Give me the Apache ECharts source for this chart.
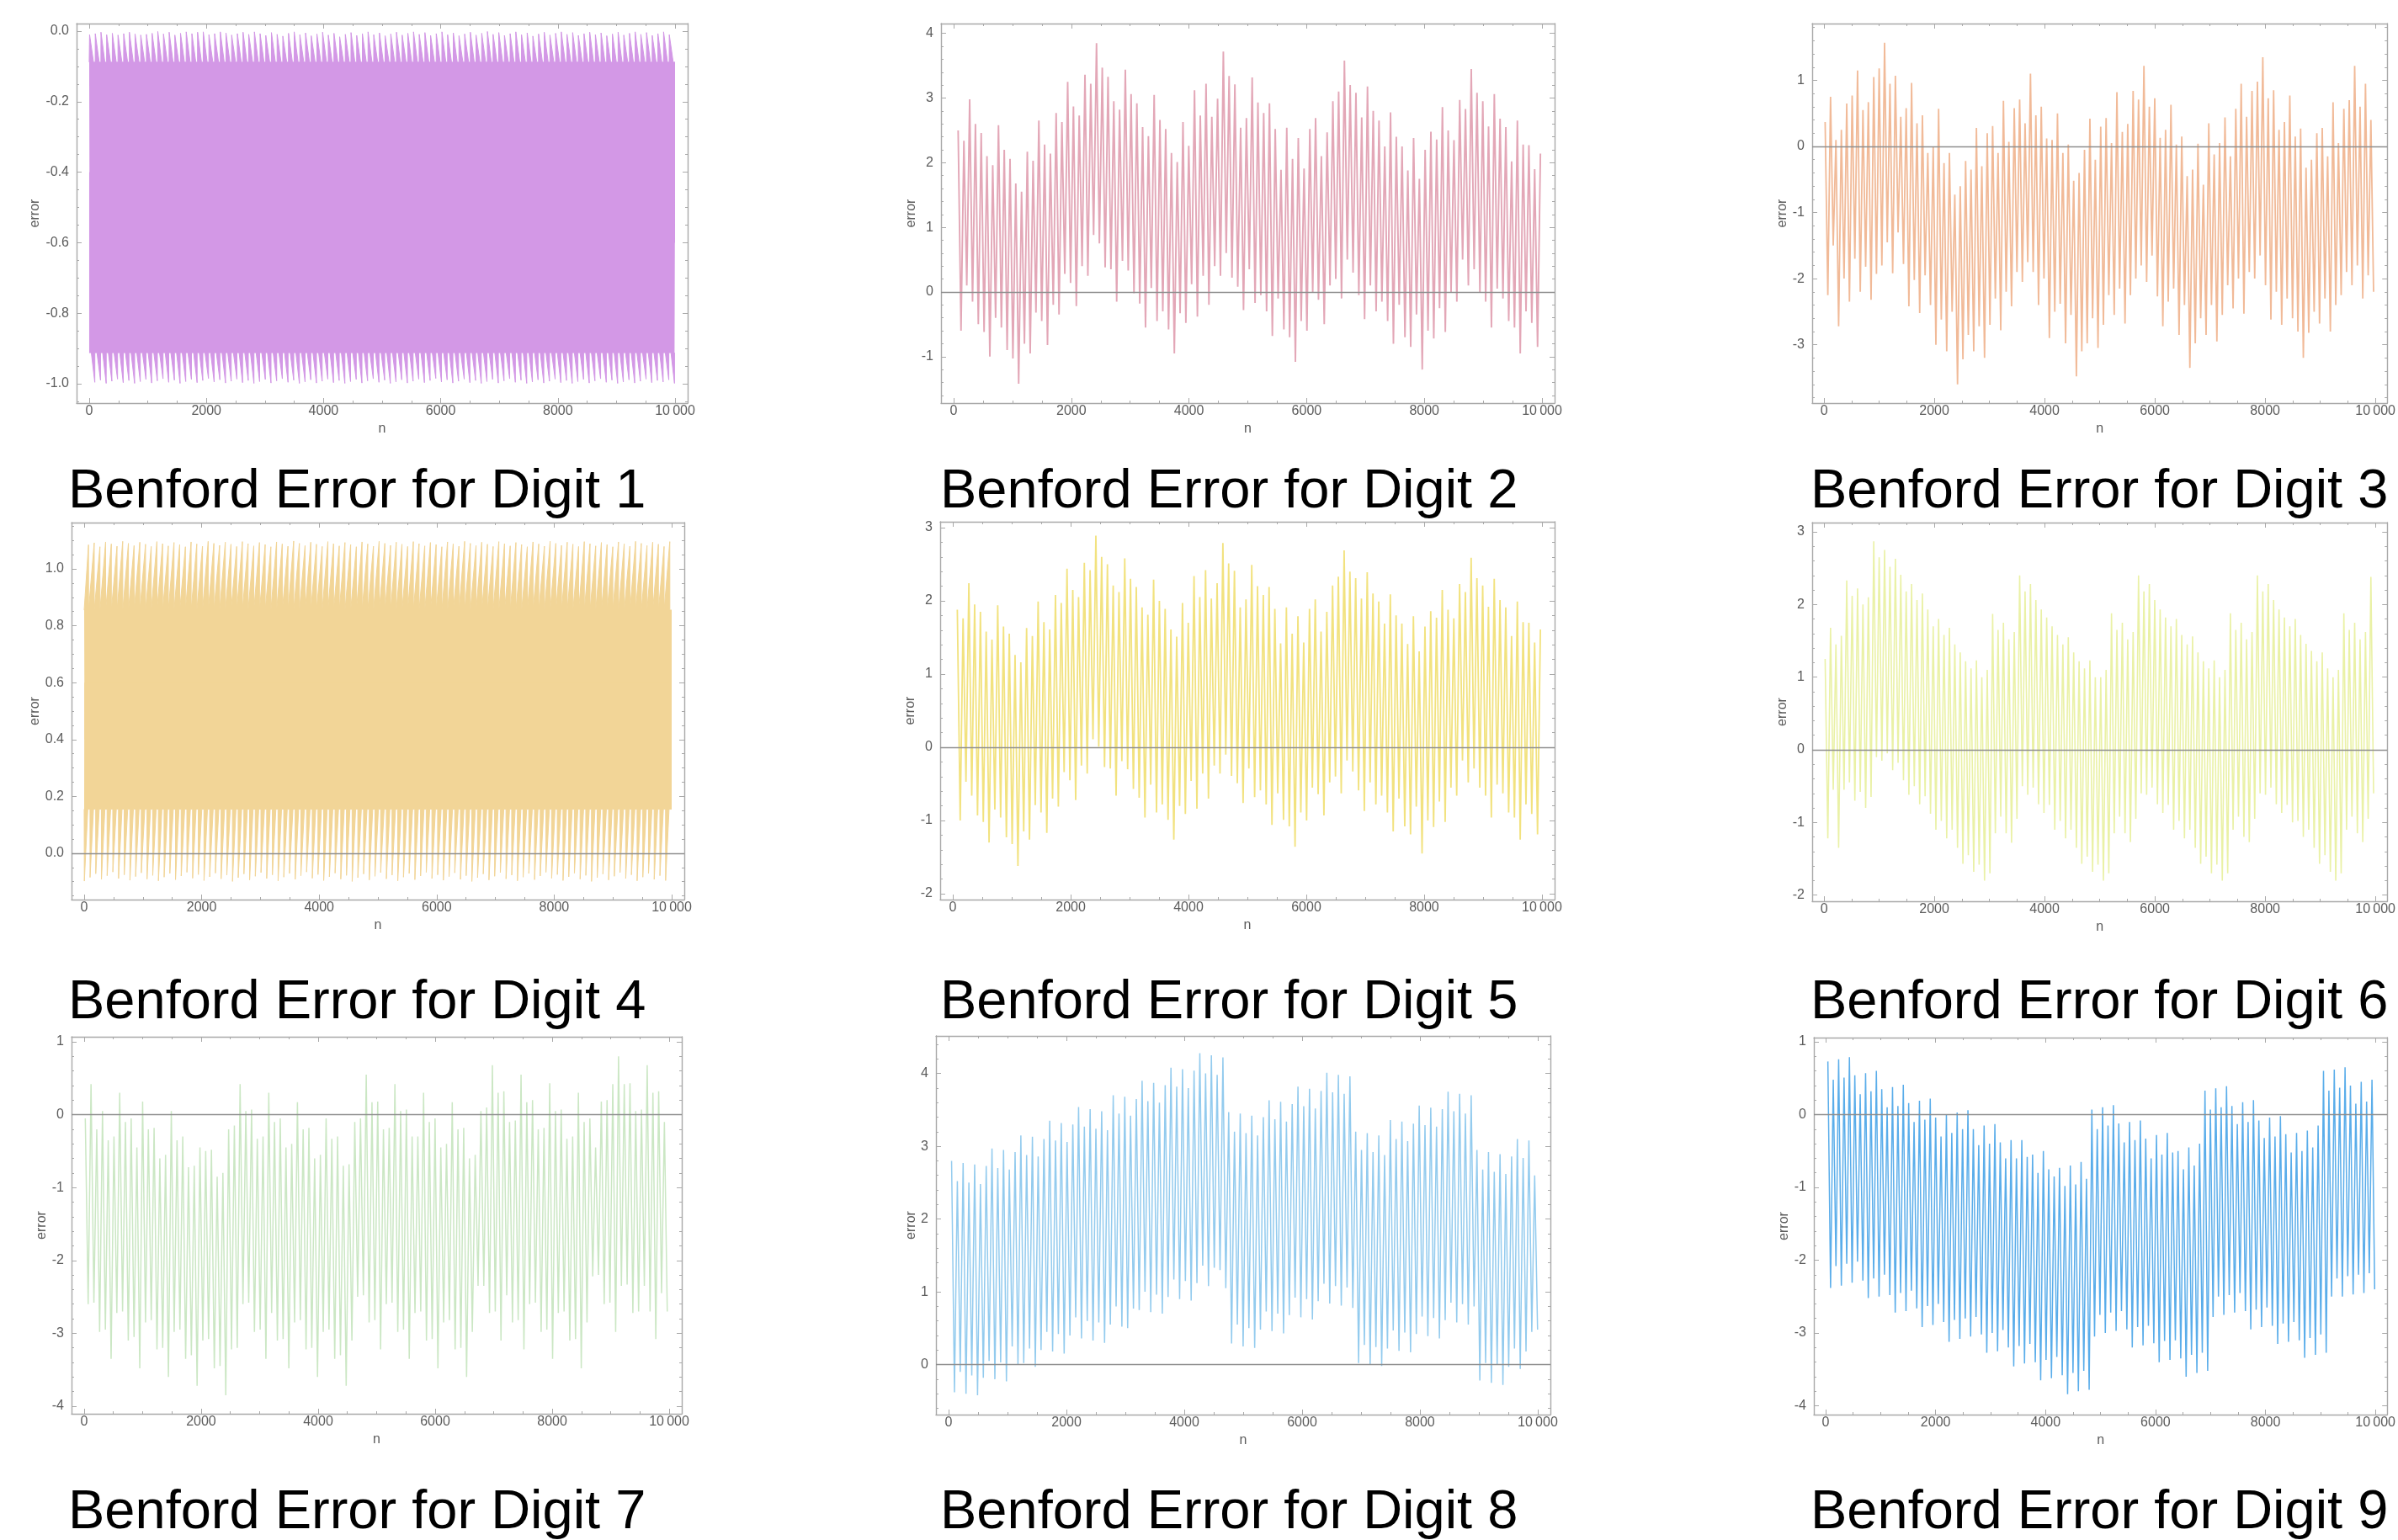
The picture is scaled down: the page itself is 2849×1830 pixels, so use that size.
<!DOCTYPE html>
<html><head><meta charset="utf-8">
<script src="https://cdn.jsdelivr.net/npm/echarts@6/dist/echarts.min.js"></script>
<style>html,body{margin:0;padding:0;background:#fff;overflow:hidden}#c{width:2849px;height:1830px}</style>
</head><body><div id="c"></div><script>
// ---------------- tick labels ----------------
const X_TICKS = [0, 2000, 4000, 6000, 8000, 10000];
const yTicks1 = [0, -0.2, -0.4, -0.6, -0.8, -1.0];
const yTicks2 = [4, 3, 2, 1, 0, -1];
const yTicks3 = [1, 0, -1, -2, -3];
const yTicks4 = [1.0, 0.8, 0.6, 0.4, 0.2, 0.0];
const yTicks5 = [3, 2, 1, 0, -1, -2];
const yTicks6 = [3, 2, 1, 0, -1, -2];
const yTicks7 = [1, 0, -1, -2, -3, -4];
const yTicks8 = [4, 3, 2, 1, 0];
const yTicks9 = [1, 0, -1, -2, -3, -4];
const titles = ['Benford Error for Digit 1','Benford Error for Digit 2','Benford Error for Digit 3','Benford Error for Digit 4','Benford Error for Digit 5','Benford Error for Digit 6','Benford Error for Digit 7','Benford Error for Digit 8','Benford Error for Digit 9'];

// ---------------- data: digit 1 and 4 (dense bands; spike tips + band edges) ----------------
const d1TopTips = [-0.010,-0.007,-0.003,-0.010,-0.006,-0.011,-0.007,-0.003,-0.008,-0.011,
-0.009,-0.006,-0.001,-0.008,-0.003,-0.011,-0.006,-0.002,-0.007,-0.003,
-0.002,-0.010,-0.007,-0.002,-0.005,-0.011,-0.007,-0.003,-0.009,-0.002,
-0.007,-0.012,-0.004,-0.009,-0.014,-0.006,-0.002,-0.010,-0.005,-0.013,
-0.008,-0.003,-0.011,-0.006,-0.016,-0.009,-0.004,-0.012,-0.007,-0.002,
-0.010,-0.005,-0.013,-0.008,-0.003,-0.011,-0.006,-0.002,-0.009,-0.004,
-0.012,-0.007,-0.002,-0.010,-0.005,-0.013,-0.008,-0.003,-0.011,-0.006,
-0.001,-0.009,-0.004,-0.012,-0.007,-0.002,-0.010,-0.005,-0.014,-0.008,
-0.003,-0.011,-0.006,-0.002,-0.009,-0.004,-0.012,-0.007,-0.003,-0.010,
-0.005,-0.013,-0.008,-0.003,-0.011,-0.006,-0.002,-0.009,-0.004,-0.012,
-0.007,-0.002,-0.010];
const d1BottomTips = [-0.996,-0.990,-0.999,-0.993,-0.987,-0.997,-0.991,-0.999,-0.994,-0.988,
-0.998,-0.992,-0.986,-0.996,-0.990,-0.999,-0.994,-0.988,-0.997,-0.991,
-0.985,-0.995,-0.989,-0.998,-0.993,-0.987,-0.997,-0.991,-0.999,-0.994,
-0.988,-0.998,-0.992,-0.986,-0.996,-0.990,-0.999,-0.995,-0.989,-0.998,
-0.993,-0.987,-0.997,-0.991,-0.999,-0.994,-0.988,-0.998,-0.992,-0.986,
-0.996,-0.990,-0.999,-0.995,-0.989,-0.998,-0.993,-0.987,-0.997,-0.991,
-0.985,-0.995,-0.989,-0.998,-0.993,-0.987,-0.997,-0.991,-0.999,-0.994,
-0.988,-0.998,-0.992,-0.986,-0.996,-0.990,-0.999,-0.995,-0.989,-0.998,
-0.993,-0.987,-0.997,-0.991,-0.999,-0.994,-0.988,-0.998,-0.992,-0.986,
-0.996,-0.990,-0.999,-0.995,-0.989,-0.998,-0.993,-0.987,-0.997,-0.991,
-0.995,-0.989,-0.999];
const d1Band = [-0.088, -0.912];
const d4TopTips = [1.085,1.092,1.078,1.095,1.088,1.080,1.097,1.090,1.082,1.094,
1.087,1.079,1.096,1.089,1.081,1.093,1.086,1.078,1.095,1.088,
1.080,1.097,1.090,1.083,1.094,1.087,1.079,1.096,1.089,1.081,
1.093,1.086,1.078,1.095,1.088,1.080,1.098,1.090,1.082,1.094,
1.087,1.079,1.096,1.089,1.081,1.093,1.086,1.078,1.095,1.088,
1.080,1.097,1.090,1.083,1.094,1.087,1.079,1.096,1.089,1.081,
1.093,1.086,1.078,1.095,1.088,1.080,1.097,1.090,1.082,1.094,
1.087,1.079,1.096,1.089,1.081,1.093,1.086,1.078,1.095,1.088,
1.080,1.097,1.090,1.083,1.094,1.087,1.079,1.096,1.089,1.081,
1.093,1.086,1.078,1.095,1.088,1.080,1.097,1.090,1.082,1.094,
1.087,1.079,1.096];
const d4BottomTips = [-0.098,-0.085,-0.072,-0.092,-0.079,-0.066,-0.089,-0.076,-0.095,-0.082,
-0.069,-0.091,-0.078,-0.097,-0.084,-0.071,-0.093,-0.080,-0.067,-0.088,
-0.075,-0.096,-0.083,-0.070,-0.090,-0.077,-0.099,-0.086,-0.073,-0.094,
-0.081,-0.068,-0.089,-0.076,-0.097,-0.084,-0.071,-0.092,-0.079,-0.066,
-0.088,-0.075,-0.096,-0.083,-0.070,-0.091,-0.078,-0.099,-0.086,-0.073,
-0.094,-0.081,-0.068,-0.090,-0.077,-0.097,-0.084,-0.071,-0.093,-0.080,
-0.067,-0.089,-0.076,-0.095,-0.082,-0.069,-0.092,-0.079,-0.099,-0.086,
-0.073,-0.094,-0.081,-0.068,-0.090,-0.077,-0.097,-0.084,-0.071,-0.093,
-0.080,-0.067,-0.088,-0.075,-0.096,-0.083,-0.070,-0.091,-0.078,-0.099,
-0.086,-0.073,-0.094,-0.081,-0.068,-0.089,-0.076,-0.097,-0.084,-0.071,
-0.092,-0.079,-0.096];
const d4Band = [0.855, 0.155];

// ---------------- data: digits 2,3,5-9 (local peaks / troughs per ~98-step cycle) ----------------
const d2Peaks = [2.50,2.34,2.98,2.60,2.46,2.10,1.96,2.58,2.20,2.06,
1.68,1.55,2.17,2.03,2.65,2.28,2.14,2.77,2.63,3.25,
2.87,2.73,3.36,3.22,3.85,3.47,3.33,2.95,2.82,3.44,
3.06,2.92,2.55,2.41,3.05,2.66,2.52,2.15,2.01,2.63,
2.26,3.12,2.73,3.22,2.71,2.99,3.72,3.34,3.21,2.54,
2.69,3.32,2.93,2.77,2.92,2.52,1.89,2.54,2.06,2.38,
1.91,2.52,2.69,2.10,2.47,2.95,3.10,3.58,3.20,3.08,
2.70,3.18,2.80,2.65,2.25,2.78,2.40,2.25,1.88,2.38,
1.75,2.20,2.48,2.36,2.86,2.50,2.35,2.97,2.83,3.45,
3.08,2.95,2.56,3.06,2.68,2.55,2.02,2.65,2.28,2.27,
1.90,2.14];
const d2Troughs = [-0.60,0.10,-0.15,-0.50,-0.62,-1.00,-0.40,-0.55,-0.90,-1.03,
-1.42,-0.80,-0.95,-0.32,-0.45,-0.82,-0.20,-0.35,0.28,0.14,
-0.22,0.40,0.25,0.88,0.75,0.38,0.35,-0.15,0.48,0.33,
-0.02,-0.18,-0.55,0.06,-0.45,-0.30,-0.58,-0.95,-0.33,-0.48,
0.12,-0.38,0.25,-0.20,0.40,0.25,0.60,0.22,0.08,-0.28,
0.35,-0.17,-0.05,-0.30,-0.68,-0.10,-0.58,-0.70,-1.08,-0.45,
-0.60,0.00,-0.12,-0.50,0.10,0.20,-0.10,0.50,0.30,-0.05,
-0.42,0.10,-0.30,-0.15,-0.45,-0.80,-0.20,-0.70,-0.85,-0.35,
-1.20,-0.60,-0.72,-0.25,-0.62,0.00,-0.15,0.50,0.10,0.35,
0.00,-0.15,-0.55,0.05,-0.10,-0.45,-0.55,-0.95,-0.30,-0.48,
-0.85];
const d3Peaks = [0.37,0.75,0.10,0.25,0.65,0.77,1.15,0.55,0.67,1.05,
1.18,1.57,0.95,1.07,0.45,0.58,0.96,0.35,0.47,-0.10,
0.00,0.57,-0.25,-0.10,-0.73,-0.60,-0.22,-0.35,0.28,-0.30,
0.20,0.31,-0.10,0.69,0.07,0.58,0.71,0.35,1.10,0.47,
0.60,0.12,0.10,0.50,-0.10,0.03,-0.52,-0.40,-0.05,0.42,
-0.20,0.30,0.43,0.05,0.82,0.22,0.34,0.84,0.71,1.22,
0.60,0.73,0.13,0.25,0.63,0.03,0.15,-0.45,-0.35,0.04,
-0.58,0.35,-0.12,0.05,0.44,-0.15,0.57,0.95,0.45,0.84,
0.98,1.35,0.73,0.85,0.25,0.37,0.77,0.15,0.27,-0.32,
-0.20,0.20,0.28,-0.15,0.67,0.05,0.57,0.70,1.22,0.60,
0.95,0.40];
const d3Troughs = [-2.25,-1.50,-2.72,-2.00,-2.35,-1.70,-2.20,-1.82,-2.32,-1.93,
-1.80,-1.45,-1.92,-1.30,-1.78,-2.42,-2.02,-2.52,-1.95,-2.40,
-3.00,-2.62,-3.10,-2.50,-3.60,-3.22,-2.85,-3.10,-2.72,-3.20,
-2.70,-2.30,-2.78,-2.20,-2.42,-1.90,-2.05,-1.75,-1.90,-2.40,
-2.00,-2.90,-2.50,-2.38,-2.98,-2.55,-3.48,-3.10,-2.98,-2.60,
-3.05,-2.70,-2.25,-2.55,-2.15,-2.68,-2.25,-2.00,-1.80,-2.05,
-1.65,-2.27,-2.72,-2.35,-2.15,-2.85,-2.40,-3.35,-2.98,-2.60,
-2.85,-2.40,-2.95,-2.55,-2.10,-2.45,-2.00,-2.53,-1.90,-2.00,
-1.65,-2.10,-2.62,-2.20,-2.70,-2.30,-2.60,-2.80,-3.20,-2.82,
-2.50,-2.68,-2.30,-2.80,-2.40,-2.25,-1.90,-2.10,-1.80,-2.30,
-1.95,-2.20];
const d5Peaks = [1.88,1.76,2.24,1.95,1.85,1.58,1.47,1.94,1.65,1.55,
1.26,1.16,1.63,1.52,1.99,1.71,1.61,2.08,1.97,2.44,
2.15,2.05,2.52,2.42,2.89,2.60,2.50,2.21,2.12,2.58,
2.30,2.19,1.91,1.81,2.29,2.00,1.89,1.61,1.51,1.97,
1.70,2.34,2.05,2.42,2.03,2.24,2.79,2.51,2.41,1.91,
2.02,2.49,2.20,2.08,2.19,1.89,1.42,1.91,1.55,1.79,
1.43,1.89,2.02,1.58,1.85,2.21,2.33,2.69,2.40,2.31,
2.03,2.39,2.10,1.99,1.69,2.09,1.80,1.69,1.41,1.79,
1.31,1.65,1.86,1.77,2.15,1.88,1.76,2.23,2.12,2.59,
2.31,2.21,1.92,2.30,2.01,1.91,1.52,1.99,1.71,1.70,
1.43,1.61];
const d5Troughs = [-1.00,-0.47,-0.66,-0.93,-1.02,-1.30,-0.85,-0.96,-1.23,-1.32,
-1.62,-1.15,-1.26,-0.79,-0.89,-1.17,-0.70,-0.81,-0.34,-0.45,
-0.72,-0.25,-0.36,0.11,0.01,-0.27,-0.29,-0.66,-0.19,-0.30,
-0.57,-0.69,-0.96,-0.51,-0.89,-0.78,-0.99,-1.26,-0.80,-0.91,
-0.46,-0.84,-0.36,-0.70,-0.25,-0.36,-0.10,-0.39,-0.49,-0.76,
-0.29,-0.68,-0.59,-0.78,-1.06,-0.63,-0.99,-1.08,-1.36,-0.89,
-1.00,-0.55,-0.64,-0.93,-0.48,-0.40,-0.63,-0.18,-0.33,-0.59,
-0.87,-0.48,-0.78,-0.66,-0.89,-1.15,-0.70,-1.08,-1.19,-0.81,
-1.45,-1.00,-1.09,-0.74,-1.02,-0.55,-0.66,-0.18,-0.48,-0.29,
-0.55,-0.66,-0.96,-0.51,-0.63,-0.89,-0.96,-1.26,-0.78,-0.91,
-1.19];
const d6Peaks = [1.25,1.68,1.45,1.57,2.33,2.12,2.22,2.00,2.10,2.87,
2.65,2.75,2.52,2.63,2.41,2.18,2.28,2.06,2.15,1.93,
1.70,1.80,1.58,1.68,1.45,1.34,1.22,1.12,1.23,1.00,
1.10,1.87,1.65,1.75,1.52,1.62,2.40,2.18,2.28,2.06,
1.93,1.82,1.70,1.58,1.45,1.55,1.34,1.22,1.12,1.23,
1.00,1.00,1.10,1.88,1.65,1.75,1.52,1.62,2.40,2.18,
2.28,2.06,1.93,1.82,1.70,1.80,1.58,1.45,1.56,1.34,
1.22,1.12,1.23,1.00,1.10,1.88,1.65,1.75,1.52,1.62,
2.40,2.18,2.28,2.06,1.93,1.82,1.70,1.80,1.58,1.46,
1.36,1.22,1.34,1.12,1.00,1.10,1.88,1.65,1.75,1.52,
1.62,2.38];
const d6Troughs = [-1.22,-0.55,-1.35,-0.55,-0.45,-0.70,-0.58,-0.80,-0.65,-0.10,
-0.15,-0.05,-0.28,-0.18,-0.42,-0.62,-0.50,-0.75,-0.64,-0.88,
-1.10,-0.98,-1.22,-1.10,-1.35,-1.57,-1.45,-1.68,-1.58,-1.80,
-1.70,-1.15,-0.92,-1.15,-1.28,-0.95,-0.50,-0.62,-0.52,-0.75,
-0.87,-0.76,-1.10,-0.98,-1.22,-1.10,-1.35,-1.57,-1.47,-1.68,
-1.58,-1.80,-1.70,-1.15,-0.92,-1.15,-1.27,-0.95,-0.60,-0.62,
-0.52,-0.75,-0.87,-0.76,-1.10,-0.98,-1.22,-1.10,-1.35,-1.57,
-1.47,-1.70,-1.58,-1.80,-1.70,-1.10,-0.92,-1.20,-1.27,-0.95,
-0.60,-0.62,-0.52,-0.75,-0.87,-0.76,-1.00,-0.98,-1.20,-1.10,
-1.35,-1.57,-1.45,-1.68,-1.80,-1.70,-1.10,-0.92,-1.15,-1.27,
-0.95,-0.60];
const d7Peaks = [-0.05,0.42,-0.20,0.05,-0.35,-0.30,0.30,-0.10,-0.05,-0.45,
0.18,-0.20,-0.18,-0.60,-0.55,0.05,-0.35,-0.30,-0.72,-0.70,
-0.45,-0.50,-0.48,-0.85,-0.80,-0.20,-0.15,0.42,0.05,0.07,
-0.33,-0.30,0.30,-0.10,-0.05,-0.45,-0.40,0.17,-0.20,-0.18,
-0.60,-0.55,-0.05,-0.33,-0.30,-0.70,-0.68,-0.10,-0.05,0.55,
0.17,0.18,-0.20,-0.18,0.42,0.05,0.07,-0.30,-0.30,0.30,
-0.10,-0.05,-0.45,-0.40,0.17,-0.20,-0.18,-0.60,-0.55,0.05,
0.10,0.68,0.30,0.32,-0.10,-0.08,0.55,0.17,0.20,-0.20,
-0.18,0.43,0.05,0.07,-0.33,-0.30,0.30,-0.10,-0.05,-0.45,
0.18,0.20,0.42,0.80,0.42,0.43,0.05,0.07,0.68,0.30,
0.32,-0.10];
const d7Troughs = [-2.60,-2.58,-2.98,-2.95,-3.35,-2.72,-2.70,-3.10,-3.05,-3.48,
-2.85,-2.82,-3.22,-3.20,-3.60,-2.98,-2.95,-3.35,-3.30,-3.72,
-3.10,-3.08,-3.48,-3.45,-3.85,-3.22,-3.20,-2.60,-2.58,-2.98,
-2.95,-3.35,-2.72,-3.10,-3.08,-3.48,-2.85,-2.82,-3.22,-3.20,
-3.60,-2.98,-2.95,-3.35,-3.30,-3.72,-3.10,-2.50,-2.48,-2.85,
-2.82,-3.22,-2.60,-2.58,-2.98,-2.95,-3.35,-2.72,-2.70,-3.10,
-3.08,-3.48,-2.85,-2.82,-3.22,-3.20,-3.60,-2.98,-2.35,-2.35,
-2.72,-2.70,-3.10,-2.48,-2.85,-2.82,-3.22,-2.60,-2.58,-2.98,
-2.95,-3.35,-2.72,-2.70,-3.10,-3.08,-3.48,-2.85,-2.22,-2.20,
-2.60,-2.58,-2.98,-2.35,-2.33,-2.72,-2.70,-2.35,-2.70,-3.08,
-2.45,-2.70];
const d8Peaks = [2.80,2.52,2.77,2.50,2.75,2.48,2.73,2.97,2.70,2.95,
2.68,2.92,3.15,2.88,3.13,2.86,3.10,3.35,3.08,3.32,
3.06,3.30,3.54,3.27,3.51,3.24,3.48,3.22,3.70,3.45,
3.68,3.42,3.65,3.90,3.62,3.87,3.60,3.84,4.08,3.82,
4.06,3.80,4.04,4.28,4.00,4.25,3.98,4.22,3.47,3.20,
3.45,3.18,3.42,3.15,3.40,3.63,3.37,3.61,3.34,3.58,
3.82,3.55,3.79,3.52,3.76,4.01,3.74,3.98,3.72,3.96,
3.20,2.95,3.18,2.92,3.15,2.88,3.36,3.10,3.34,3.07,
3.31,3.56,3.29,3.53,3.27,3.51,3.75,3.48,3.72,3.45,
3.70,2.95,2.68,2.92,2.65,2.89,2.62,2.86,3.10,2.84,
3.08,2.60];
const d8Troughs = [-0.38,-0.10,-0.40,-0.15,-0.42,-0.18,0.05,-0.20,0.03,-0.23,
0.25,0.00,0.02,0.22,-0.03,0.20,0.45,0.18,0.42,0.15,
0.40,0.65,0.36,0.60,0.33,0.58,0.30,0.55,0.80,0.52,
0.50,0.77,0.75,1.00,0.72,0.96,0.70,0.93,1.17,0.90,
1.15,0.88,1.12,1.36,1.08,1.33,1.30,1.05,0.29,0.55,
0.25,0.50,0.23,0.48,0.73,0.46,0.70,0.43,0.68,0.92,
0.65,0.90,0.62,0.87,1.11,0.84,1.08,0.81,1.06,0.78,
0.02,0.27,0.00,0.24,-0.02,0.22,0.47,0.19,0.44,0.17,
0.42,0.66,0.39,0.64,0.36,0.61,0.85,0.58,0.83,0.55,
0.80,-0.22,0.02,-0.25,0.00,-0.28,-0.03,0.22,-0.06,0.18,
0.45,0.48];
const d9Peaks = [0.73,0.48,0.76,0.51,0.79,0.54,0.28,0.57,0.32,0.60,
0.35,0.10,0.38,0.12,0.41,0.16,-0.10,0.19,-0.07,0.22,
-0.04,-0.30,0.00,-0.25,0.03,-0.20,0.06,-0.20,-0.42,-0.15,
-0.40,-0.13,-0.38,-0.60,-0.35,-0.60,-0.35,-0.58,-0.55,-0.80,
-0.50,-0.75,-0.85,-0.73,-0.98,-0.70,-0.96,-0.65,-0.88,0.07,
-0.20,0.10,-0.15,0.13,-0.12,-0.38,-0.10,-0.35,-0.08,-0.33,
-0.60,-0.28,-0.55,-0.25,-0.52,-0.50,-0.75,-0.45,-0.70,-0.40,
0.33,0.07,0.36,0.10,0.39,0.12,-0.13,0.17,-0.10,0.20,
-0.08,-0.32,-0.04,-0.30,-0.02,-0.27,-0.52,-0.25,-0.50,-0.22,
-0.45,-0.15,0.60,0.33,0.62,0.37,0.65,0.40,0.15,0.45,
0.18,0.48];
const d9Troughs = [-2.38,-2.08,-2.35,-2.05,-2.31,-2.02,-2.28,-2.52,-2.25,-2.50,
-2.20,-2.48,-2.72,-2.45,-2.70,-2.42,-2.66,-2.92,-2.63,-2.89,
-2.60,-2.85,-3.12,-2.82,-3.08,-2.80,-3.05,-2.78,-3.02,-3.27,
-3.00,-3.25,-2.96,-3.20,-3.46,-3.18,-3.42,-3.15,-3.40,-3.65,
-3.37,-3.62,-3.33,-3.58,-3.84,-3.55,-3.80,-3.52,-3.78,-3.05,
-2.75,-3.00,-2.72,-2.97,-2.70,-2.95,-3.20,-2.92,-3.17,-2.90,
-3.14,-3.40,-3.11,-3.37,-3.10,-3.35,-3.60,-3.30,-3.55,-3.27,
-3.52,-2.78,-2.50,-2.75,-2.48,-2.72,-2.45,-2.70,-2.95,-2.68,
-2.92,-2.65,-2.90,-3.15,-2.87,-3.12,-2.85,-3.10,-3.34,-3.07,
-3.30,-3.02,-3.27,-2.50,-2.25,-2.50,-2.22,-2.47,-2.20,-2.45,
-2.18,-2.40];

// ---------------- builders ----------------
const STEP = 98;       // n between successive cycles
const BAND_STEP = 97;  // n between successive band spikes
function zig(peaks, troughs, pOff, tOff) {
  const pts = [];
  for (let i = 0; i < peaks.length; i++) {
    pts.push([STEP * i + pOff, peaks[i]]);
    if (i < troughs.length) pts.push([STEP * i + tOff, troughs[i]]);
  }
  return pts;
}
// drift: -1 => jump then slow descent (digit 1); +1 => slow ascent then drop (digit 4)
function topEnv(tips, base, drift) {
  const pts = [[0, base]];
  tips.forEach((t, i) => {
    const n = BAND_STEP * i + 6;
    if (drift < 0) { pts.push([n, base], [n + 1, t], [n + 68, base]); }
    else { pts.push([n, base], [n + 68, t], [n + 69, base]); }
  });
  pts.push([10000, base]);
  return pts;
}
function botEnv(tips, base, drift) {
  const pts = [[0, base]];
  tips.forEach((t, i) => {
    const n = BAND_STEP * i + (drift < 0 ? 36 : 2);
    if (drift < 0) { pts.push([n, base], [n + 60, t], [n + 61, base]); }
    else { pts.push([n, base], [n + 1, t], [n + 60, base]); }
  });
  pts.push([10000, base]);
  return pts;
}

// ---------------- fonts ----------------
function hasFont(name) {
  const c = document.createElement('canvas').getContext('2d');
  c.font = '40px monospace'; const a = c.measureText('2000 error n').width;
  c.font = "40px '" + name + "', monospace"; const b = c.measureText('2000 error n').width;
  return Math.abs(a - b) > 0.5;
}
const NARROW = hasFont('Liberation Sans Narrow');
const TF = NARROW ? "'Liberation Sans Narrow'" : "'Liberation Sans', Arial, sans-serif";
const TS = NARROW ? 19 : 16;
const FRAME = '#a9a9a9';
const LABEL = '#5c5c5c';
const X_MIN = -215, X_MAX = 10215;

// ---------------- layout ----------------
const panels = [
  {L:91,   T:28,   W:726, H:451, ymin:-1.055, ymax:0.0215, ticks:yTicks1, minor:0.05, dec:1, color:'#d398e6', gap:41, lw:1},
  {L:1118, T:28,   W:729, H:451, ymin:-1.719, ymax:4.152,  ticks:yTicks2, minor:0.2, dec:0, color:'#e3a7b7', gap:27, lw:1.9},
  {L:2153, T:28,   W:727, H:451, ymin:-3.883, ymax:1.859,  ticks:yTicks3, minor:0.2, dec:0, color:'#f1ba98', gap:27, lw:1.8},
  {L:85,   T:621,  W:728, H:448, ymin:-0.163, ymax:1.163,  ticks:yTicks4, minor:0.05, dec:1, color:'#f2d597', gap:29, lw:1},
  {L:1117, T:620,  W:730, H:449, ymin:-2.08,  ymax:3.08,   ticks:yTicks5, minor:0.2, dec:0, color:'#f2e27f', gap:27, lw:1.8},
  {L:2153, T:621,  W:727, H:450, ymin:-2.085, ymax:3.127,  ticks:yTicks6, minor:0.2, dec:0, color:'#eaf1a6', gap:27, lw:1.6},
  {L:85,   T:1232, W:725, H:448, ymin:-4.104, ymax:1.069,  ticks:yTicks7, minor:0.2, dec:0, color:'#cbe7c4', gap:26, lw:1.5},
  {L:1112, T:1231, W:730, H:450, ymin:-0.687, ymax:4.516,  ticks:yTicks8, minor:0.2, dec:0, color:'#93cbee', gap:16, lw:1.5},
  {L:2155, T:1233, W:725, H:448, ymin:-4.121, ymax:1.058,  ticks:yTicks9, minor:0.2, dec:0, color:'#5aadea', gap:26, lw:1.5}
];
const titlePos = [[81,553],[1117,553],[2151,553],[81,1160],[1117,1160],[2151,1160],[81,1766],[1117,1766],[2151,1766]];

const xMinor = []; for (let v = 0; v <= 10000; v += 500) xMinor.push(v);
function yMinorVals(p) {
  const out = []; const k0 = Math.ceil(p.ymin / p.minor - 1e-9), k1 = Math.floor(p.ymax / p.minor + 1e-9);
  for (let k = k0; k <= k1; k++) out.push(Math.round(k * p.minor * 1000) / 1000);
  return out;
}
const fmtX = v => (v === 10000 ? '10\u2009000' : String(v));

const grid = [], xAxis = [], yAxis = [], series = [], title = [];
panels.forEach((p, gi) => {
  grid.push({left:p.L, top:p.T, width:p.W, height:p.H, containLabel:false});
  const ym = yMinorVals(p);
  const base = {gridIndex:gi, type:'value', splitLine:{show:false}, silent:true};
  const lineOn = {show:true, onZero:false, lineStyle:{color:FRAME, width:1.4}};
  const lineOff = {show:false, onZero:false};
  const tickMaj = vals => ({show:true, inside:true, length:6, customValues:vals, lineStyle:{color:FRAME, width:1}});
  const tickMin = vals => ({show:true, inside:true, length:3, customValues:vals, lineStyle:{color:FRAME, width:1}});
  xAxis.push(Object.assign({}, base, {min:X_MIN, max:X_MAX, position:'bottom', axisLine:lineOn, axisTick:tickMaj(X_TICKS),
    axisLabel:{show:true, customValues:X_TICKS, margin:2, color:LABEL, fontFamily:TF, fontSize:TS, formatter:fmtX},
    name:'n', nameLocation:'middle', nameGap:23, nameTextStyle:{color:LABEL, fontFamily:TF, fontSize:TS}}));
  xAxis.push(Object.assign({}, base, {min:X_MIN, max:X_MAX, position:'bottom', axisLine:lineOff, axisTick:tickMin(xMinor), axisLabel:{show:false}}));
  xAxis.push(Object.assign({}, base, {min:X_MIN, max:X_MAX, position:'top', axisLine:lineOn, axisTick:tickMaj(X_TICKS), axisLabel:{show:false}}));
  xAxis.push(Object.assign({}, base, {min:X_MIN, max:X_MAX, position:'top', axisLine:lineOff, axisTick:tickMin(xMinor), axisLabel:{show:false}}));
  yAxis.push(Object.assign({}, base, {min:p.ymin, max:p.ymax, position:'left', axisLine:lineOn, axisTick:tickMaj(p.ticks),
    axisLabel:{show:true, customValues:p.ticks, margin:9, color:LABEL, fontFamily:TF, fontSize:TS, formatter: v => v.toFixed(p.dec)},
    name:'error', nameLocation:'middle', nameRotate:90, nameGap:p.gap, nameTextStyle:{color:LABEL, fontFamily:TF, fontSize:TS}}));
  yAxis.push(Object.assign({}, base, {min:p.ymin, max:p.ymax, position:'left', axisLine:lineOff, axisTick:tickMin(ym), axisLabel:{show:false}}));
  yAxis.push(Object.assign({}, base, {min:p.ymin, max:p.ymax, position:'right', axisLine:lineOn, axisTick:tickMaj(p.ticks), axisLabel:{show:false}}));
  yAxis.push(Object.assign({}, base, {min:p.ymin, max:p.ymax, position:'right', axisLine:lineOff, axisTick:tickMin(ym), axisLabel:{show:false}}));

  title.push({text:titles[gi], left:titlePos[gi][0], top:titlePos[gi][1], padding:0,
    textStyle:{fontSize:65, fontWeight:'normal', color:'#000', fontFamily:"'Liberation Sans', Arial, Helvetica, sans-serif"}});
});

const zeroLine = {silent:true, symbol:['none','none'], label:{show:false}, animation:false,
  lineStyle:{color:'#8e8e8e', width:1.3, type:'solid'}, data:[{yAxis:0}]};
function lineSeries(gi, data, extra) {
  const p = panels[gi];
  return Object.assign({type:'line', xAxisIndex:gi*4, yAxisIndex:gi*4, data:data, symbol:'none', showSymbol:false,
    silent:true, animation:false, lineStyle:{color:p.color, width:p.lw}, z:2}, extra || {});
}
// digit 1 band (overlapping fills so no seam)
series.push(lineSeries(0, topEnv(d1TopTips, d1Band[0], -1), {areaStyle:{color:panels[0].color, opacity:1, origin:-0.6}}));
series.push(lineSeries(0, botEnv(d1BottomTips, d1Band[1], -1), {areaStyle:{color:panels[0].color, opacity:1, origin:-0.4}}));
// digit 4 band
series.push(lineSeries(3, topEnv(d4TopTips, d4Band[0], 1), {areaStyle:{color:panels[3].color, opacity:1, origin:0.4}}));
series.push(lineSeries(3, botEnv(d4BottomTips, d4Band[1], 1), {areaStyle:{color:panels[3].color, opacity:1, origin:0.6}, markLine:zeroLine}));
// zig-zag digits
series.push(lineSeries(1, zig(d2Peaks, d2Troughs, 76, 125), {markLine:zeroLine}));
series.push(lineSeries(2, zig(d3Peaks, d3Troughs, 20, 69), {markLine:zeroLine}));
series.push(lineSeries(4, zig(d5Peaks, d5Troughs, 76, 125), {markLine:zeroLine}));
series.push(lineSeries(5, zig(d6Peaks, d6Troughs, 20, 69), {markLine:zeroLine}));
series.push(lineSeries(6, zig(d7Peaks, d7Troughs, 20, 69), {markLine:zeroLine}));
series.push(lineSeries(7, zig(d8Peaks, d8Troughs, 50, 99), {markLine:zeroLine}));
series.push(lineSeries(8, zig(d9Peaks, d9Troughs, 40, 89), {markLine:zeroLine}));

const chart = echarts.init(document.getElementById('c'), null, {renderer:'canvas', width:2849, height:1830});
chart.setOption({animation:false, backgroundColor:'#ffffff', title:title, grid:grid, xAxis:xAxis, yAxis:yAxis, series:series});
</script></body></html>
